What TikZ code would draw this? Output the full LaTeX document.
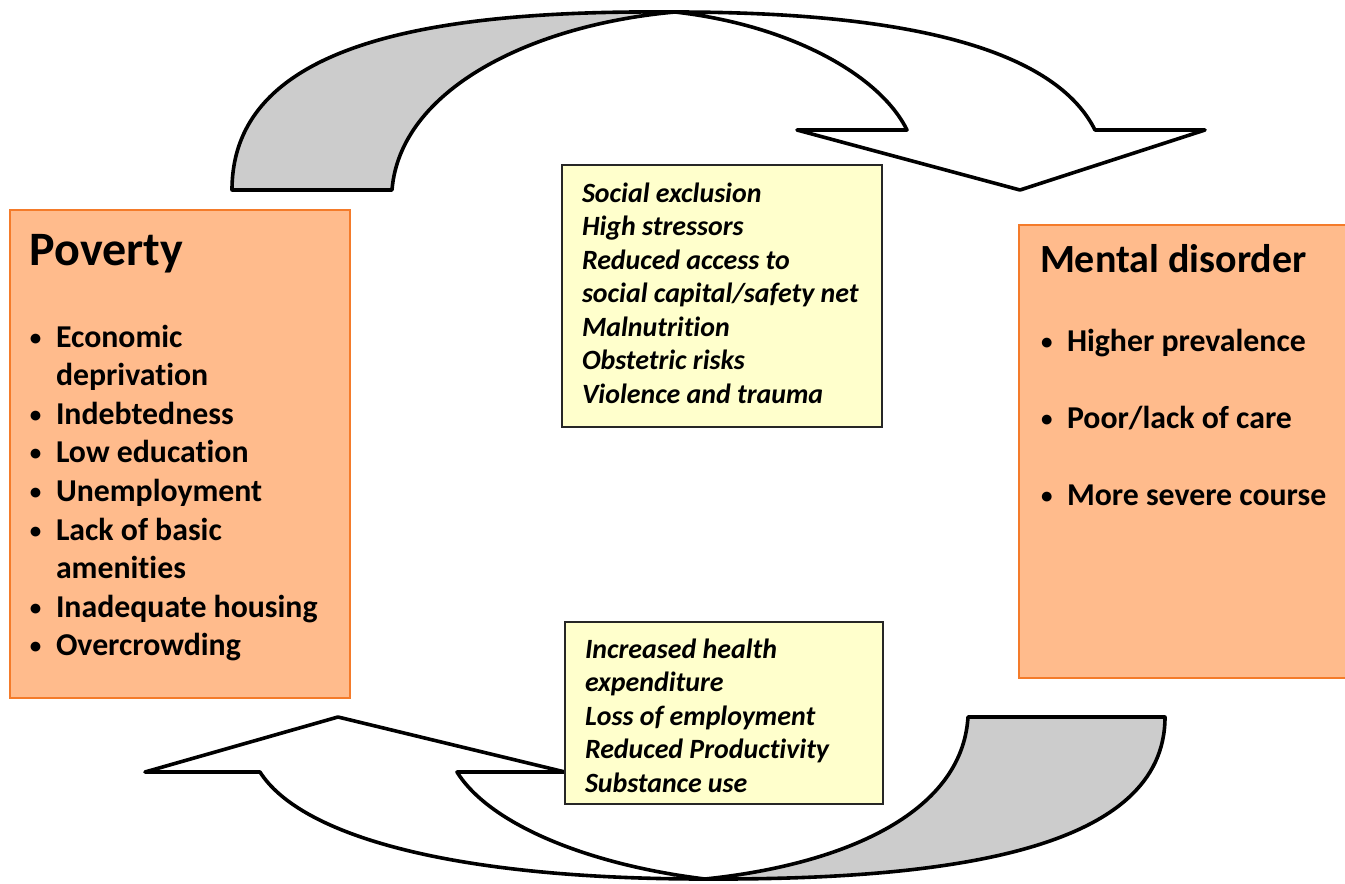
\documentclass[tikz,border=0pt]{standalone}
\usepackage{fontspec}
\setmainfont{Carlito}[Ligatures=NoCommon]
\usepackage{xcolor}
\definecolor{box-orange}{HTML}{FFBB8C}
\definecolor{edge-orange}{HTML}{F47B2A}
\definecolor{note-yellow}{HTML}{FFFFCC}
\definecolor{band-gray}{HTML}{CCCCCC}
\newcommand{\bul}{\makebox[26pt][l]{\raisebox{2pt}{\fontsize{23}{23}\selectfont\textbullet}}}
\newcommand{\ind}{\hspace*{26pt}}

\begin{document}
\begin{tikzpicture}[x=1pt, y=-1pt,
  every node/.style={inner sep=0pt, outer sep=0pt},
  factorbox/.style={draw=edge-orange, line width=1.6pt, fill=box-orange},
  notebox/.style={draw=black!85, line width=1.2pt, fill=note-yellow},
  band/.style={draw=black, line width=3.6pt, line join=round},
  boxtitle/.style={anchor=base west, font=\bfseries\fontsize{#1}{#1}\selectfont},
  boxlist/.style={anchor=base west, font=\bfseries\fontsize{31.8}{#1}\selectfont},
  notelist/.style={anchor=base west, font=\bfseries\itshape\fontsize{27.9}{33.5}\selectfont}]
  \useasboundingbox (0,0) rectangle (1345,884);

  \draw[band, fill=band-gray] (232,190) .. controls (232,40) and (440,10) .. (675,12)
    .. controls (530,25) and (400,90) .. (392,190) -- cycle;
  \draw[band, fill=white] (675,12) .. controls (940,12) and (1060,60) .. (1095,130)
    -- (1205,130) -- (1020,190) -- (797,130) -- (907,130)
    .. controls (880,75) and (790,25) .. (675,12) -- cycle;

  \draw[band, fill=band-gray] (1165,717) .. controls (1165,850) and (950,880) .. (705,879)
    .. controls (840,865) and (962,815) .. (968,717) -- cycle;
  \draw[band, fill=white] (705,879) .. controls (450,879) and (300,835) .. (260,772)
    -- (145,772) -- (338,717) -- (565,772) -- (457,772)
    .. controls (490,825) and (590,865) .. (705,879) -- cycle;

  \node[factorbox, minimum width=340, minimum height=488] (poverty) at (180,454) {};
  \node[factorbox, minimum width=331, minimum height=453] (mental) at (1184.5,451.5) {};
  \node[notebox, minimum width=320, minimum height=262] (causes) at (722,296) {};
  \node[notebox, minimum width=318, minimum height=182] (effects) at (724,713) {};

  \node[boxtitle=48] (poverty-title) at (30,265) {Poverty};
  \node[boxlist=38.6] (poverty-list) at (30,347) {\begin{tabular}[t]{@{}l@{}}
    \bul Economic\\ \ind deprivation\\ \bul Indebtedness\\ \bul Low education\\
    \bul Unemployment\\ \bul Lack of basic\\ \ind amenities\\
    \bul Inadequate housing\\ \bul Overcrowding\end{tabular}};

  \node[boxtitle=40] (mental-title) at (1040,272) {Mental disorder};
  \node[boxlist=77] (mental-list) at (1041,351) {\begin{tabular}[t]{@{}l@{}}
    \bul Higher prevalence\\ \bul Poor/lack of care\\ \bul More severe course\end{tabular}};

  \node[notelist] (causes-list) at (582,202) {\begin{tabular}[t]{@{}l@{}}
    Social exclusion\\ High stressors\\ Reduced access to\\
    social capital/safety net\\ Malnutrition\\ Obstetric risks\\
    Violence and trauma\end{tabular}};
  \node[notelist] (effects-list) at (585,658) {\begin{tabular}[t]{@{}l@{}}
    Increased health\\ expenditure\\ Loss of employment\\
    Reduced Productivity\\ Substance use\end{tabular}};
\end{tikzpicture}
\end{document}
